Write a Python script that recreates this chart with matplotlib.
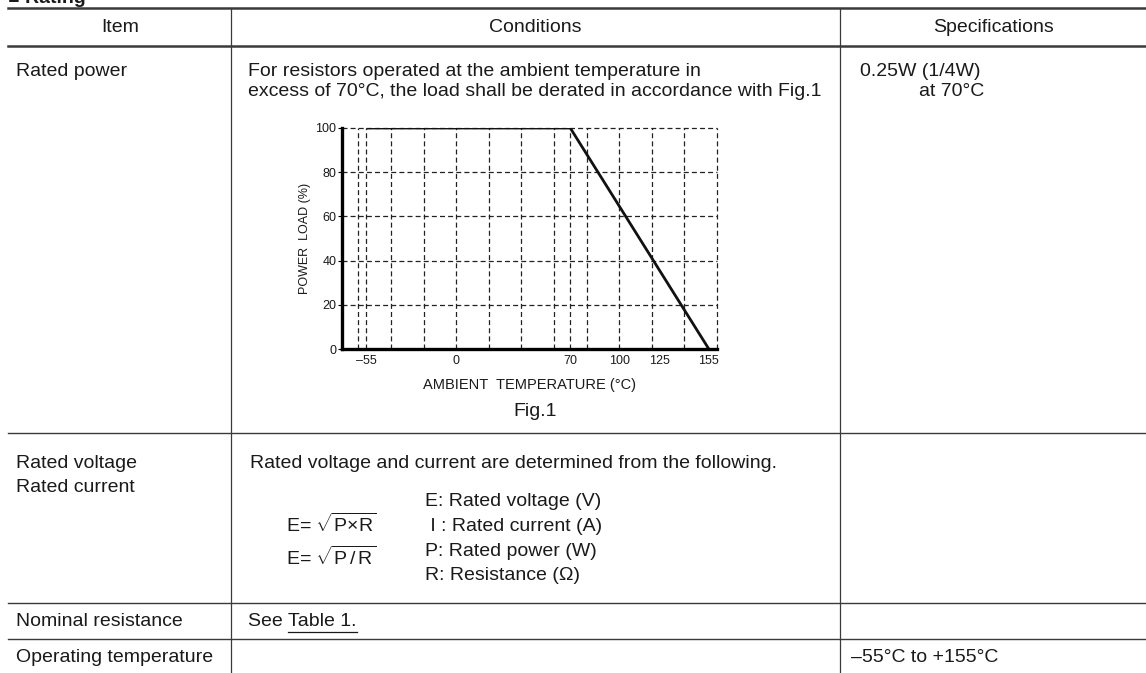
import matplotlib
matplotlib.use("Agg")
import matplotlib.pyplot as plt
from matplotlib.lines import Line2D

plt.rcParams["font.family"] = ["Liberation Sans", "DejaVu Sans"]
plt.rcParams["mathtext.fontset"] = "custom"
plt.rcParams["mathtext.rm"] = "Liberation Sans"
plt.rcParams["mathtext.it"] = "Liberation Sans:italic"
plt.rcParams["mathtext.bf"] = "Liberation Sans:bold"

# derating curve (Fig.1)
temp = [-55, 70, 155]
load = [100, 100, 0]
x_ticks = [-55, 0, 70, 100, 125, 155]
y_ticks = [0, 20, 40, 60, 80, 100]
grid_x = [-60, -55, -40, -20, 0, 20, 40, 60, 70, 80, 100, 120, 140, 160]
grid_y = [20, 40, 60, 80, 100]

# table contents
headers = ["Item", "Conditions", "Specifications"]
items = ["Rated power", "Rated voltage\nRated current", "Nominal resistance", "Operating temperature"]
power_conditions = ["For resistors operated at the ambient temperature in",
                    "excess of 70\u00b0C, the load shall be derated in accordance with Fig.1"]
voltage_intro = "Rated voltage and current are determined from the following."
formulas = [r"E= $\sqrt{\mathrm{P{\times}R}}$", r"E= $\sqrt{\mathrm{P\,/\,R}}$"]
symbols = ["E: Rated voltage (V)", " I : Rated current (A)", "P: Rated power (W)", "R: Resistance (\u03a9)"]
power_spec = ["0.25W (1/4W)", "at 70\u00b0C"]
temp_spec = "\u201355\u00b0C to +155\u00b0C"

W, H = 1146, 673
TXT = "#1a1a1a"
LINE = "#3a3a3a"
FS = 14


def fx(px):
    return px / W


def fy(py):
    return 1 - py / H


fig = plt.figure(figsize=(W / 100, H / 100), dpi=100)


def hline(y, x0=8, x1=W, lw=1.0):
    fig.add_artist(Line2D([fx(x0), fx(x1)], [fy(y), fy(y)], color=LINE, lw=lw))


def vline(x, y0=8, y1=H):
    fig.add_artist(Line2D([fx(x), fx(x)], [fy(y0), fy(y1)], color=LINE, lw=0.9))


def put(x, y, s, ha="left", size=FS, **kw):
    return fig.text(fx(x), fy(y), s, ha=ha, va="center", fontsize=size, color=TXT, **kw)


# section title (cut off at top, as in the source page)
fig.text(fx(8), fy(3), "\u25a0 Rating", ha="left", va="baseline", fontsize=14,
         fontweight="bold", color=TXT)

# table rules
hline(8, lw=1.8)
hline(45.5, lw=1.8)
hline(433)
hline(602.7)
hline(639)
vline(231)
vline(840)

# header
put(120, 28, headers[0], ha="center")
put(535, 28, headers[1], ha="center")
put(993, 28, headers[2], ha="center")

# row 1: rated power
put(16, 72, items[0])
put(248, 72, power_conditions[0])
put(248, 92, power_conditions[1])
put(860, 72, power_spec[0])
put(984, 92, power_spec[1], ha="right")

ax = fig.add_axes([fx(342), fy(349), fx(717) - fx(342), fy(128) - fy(349)])
ax.set_xlim(-70, 160)
ax.set_ylim(0, 100)
for gx in grid_x:
    ax.axvline(gx, color="#222222", lw=0.9, ls=(0, (4, 2.5)), zorder=1, clip_on=False)
for gy in grid_y:
    ax.axhline(gy, color="#222222", lw=0.9, ls=(0, (4, 2.5)), zorder=1, clip_on=False)
ax.plot(temp, load, color="#111111", lw=2.0, zorder=3, solid_capstyle="butt")
ax.spines["top"].set_visible(False)
ax.spines["right"].set_visible(False)
ax.spines["left"].set_linewidth(2.4)
ax.spines["bottom"].set_linewidth(2.4)
ax.spines["left"].set_zorder(4)
ax.spines["bottom"].set_zorder(4)
ax.set_xticks(x_ticks)
ax.set_xticklabels(["\u2013" + str(-t) if t < 0 else str(t) for t in x_ticks])
ax.set_yticks(y_ticks)
ax.tick_params(axis="x", length=0, pad=4, labelsize=9, labelcolor=TXT)
ax.tick_params(axis="y", length=3, width=0.8, pad=1, labelsize=9, labelcolor=TXT)
ax.set_ylabel("POWER  LOAD (%)", fontsize=9, color=TXT, labelpad=3)
ax.set_xlabel("AMBIENT  TEMPERATURE (\u00b0C)", fontsize=10.5, color=TXT, labelpad=8)
ax.set_facecolor("none")
put(535, 411, "Fig.1", ha="center")

# row 2: rated voltage / current
put(16, 463, items[1].split("\n")[0])
put(16, 487, items[1].split("\n")[1])
put(250, 463, voltage_intro)
put(286, 524, formulas[0])
put(286, 557, formulas[1])
for i, s in enumerate(symbols):
    put(425, 502 + i * 24.5, s)

# row 3: nominal resistance
put(16, 622, items[2])
t1 = put(248, 622, "See ")
fig.canvas.draw()
bb = t1.get_window_extent()
t2 = fig.text(bb.x1 / W, fy(622), "Table 1.", ha="left", va="center", fontsize=FS, color=TXT)
fig.canvas.draw()
bb2 = t2.get_window_extent()
fig.add_artist(Line2D([bb2.x0 / W, bb2.x1 / W], [(bb2.y0 - 1) / H] * 2, color=TXT, lw=0.9))

# row 4: operating temperature
put(16, 658, items[3])
put(851, 658, temp_spec)

fig.savefig("out.png", dpi=100)
